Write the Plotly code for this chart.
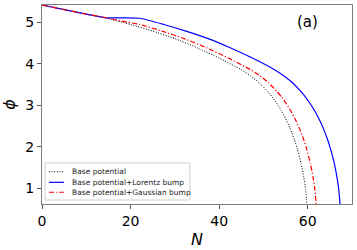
import plotly.graph_objects as go

# Base potential
n_base = [0, 5, 10, 14.6, 20, 25, 30, 35, 40, 45, 47, 49, 51, 52, 53, 54, 55, 56, 57, 57.7, 58.5, 59.1, 59.5, 59.8]
phi_base = [5.42, 5.31, 5.20, 5.10, 4.95, 4.79, 4.61, 4.39, 4.14, 3.86, 3.72, 3.55, 3.33, 3.20, 3.05, 2.88, 2.68, 2.45, 2.17, 1.93, 1.60, 1.27, 0.98, 0.62]

# Base potential + Lorentz bump
n_lor = [0, 5, 10, 14.6, 18, 22.1, 27.5, 32.5, 37.5, 42.5, 47.5, 52.5, 54.5, 56.5, 58.5, 59.5, 60.5, 61.5, 62.5, 63.5, 64.5, 65.2, 66.0, 66.6, 67.0, 67.3]
phi_lor = [5.42, 5.31, 5.20, 5.11, 5.11, 5.10, 4.95, 4.79, 4.61, 4.39, 4.14, 3.86, 3.72, 3.55, 3.33, 3.20, 3.05, 2.88, 2.68, 2.45, 2.17, 1.93, 1.60, 1.27, 0.98, 0.62]

# Base potential + Gaussian bump
n_gau = [0, 5, 10, 14.6, 18, 22.1, 27.1, 32.1, 37.1, 42.1, 47.1, 49.1, 51.1, 53.1, 54.1, 55.1, 56.1, 57.1, 58.1, 59.1, 59.8, 60.6, 61.2, 61.6, 61.9]
phi_gau = [5.42, 5.31, 5.20, 5.11, 5.03, 4.95, 4.79, 4.61, 4.39, 4.14, 3.86, 3.72, 3.55, 3.33, 3.20, 3.05, 2.88, 2.68, 2.45, 2.17, 1.93, 1.60, 1.27, 0.98, 0.62]

series_names = ["Base potential", "Base potential+Lorentz bump", "Base potential+Gaussian bump"]
x_ticks = [0, 20, 40, 60]
y_ticks = [1, 2, 3, 4, 5]

font_family = "DejaVu Sans"
styles = [dict(color="black", width=1, dash="1px,1.6px"),
          dict(color="blue", width=1.2, dash="solid"),
          dict(color="red", width=1.2, dash="5px,2px,1.2px,2px")]

fig = go.Figure()
for xs, ys, name, st in zip([n_base, n_lor, n_gau], [phi_base, phi_lor, phi_gau], series_names, styles):
    fig.add_trace(go.Scatter(x=xs, y=ys, mode="lines", name=name, showlegend=False,
                             line=dict(shape="spline", smoothing=0.5, **st)))

axis_common = dict(showline=True, linecolor="#7f7f7f", linewidth=1, mirror=True,
                   showgrid=False, zeroline=False, ticks="outside", ticklen=4,
                   tickcolor="#555555", automargin=False,
                   tickfont=dict(family=font_family, size=14, color="black"))

fig.update_xaxes(range=[0, 70], tickvals=x_ticks, **axis_common,
                 title=dict(text="<i>N</i>", font=dict(family=font_family, size=16, color="black"), standoff=6))
fig.update_yaxes(range=[0.62, 5.42], tickvals=y_ticks, **axis_common,
                 title=dict(text="<i>ϕ</i>", font=dict(family=font_family, size=16, color="black"), standoff=8))

fig.add_annotation(text="(a)", xref="paper", yref="paper", x=0.855, y=0.915,
                   xanchor="center", yanchor="middle",
                   showarrow=False, font=dict(family=font_family, size=15, color="black"))

# legend box (lower left), drawn as in the reference
fig.add_shape(type="rect", xref="paper", yref="paper", x0=0.01, x1=0.477, y0=0.02, y1=0.206,
              line=dict(color="#d0d0d0", width=1), fillcolor="rgba(255,255,255,0.85)", layer="above")
row_y = [0.162, 0.109, 0.059]
for name, st, yy in zip(series_names, styles, row_y):
    fig.add_shape(type="line", xref="paper", yref="paper", x0=0.0226, x1=0.071, y0=yy, y1=yy,
                  line=st, layer="above")
    fig.add_annotation(text=name, xref="paper", yref="paper", x=0.0903, y=yy,
                       xanchor="left", yanchor="middle", showarrow=False,
                       font=dict(family=font_family, size=7.5, color="#222222"))

fig.update_layout(
    width=357, height=250,
    margin=dict(l=42, r=5, t=5, b=46),
    plot_bgcolor="white", paper_bgcolor="white",
    showlegend=False,
)

fig.write_html("out.html", config={"displayModeBar": False},
               post_script="document.body.style.margin='0';document.body.style.overflow='hidden';")
